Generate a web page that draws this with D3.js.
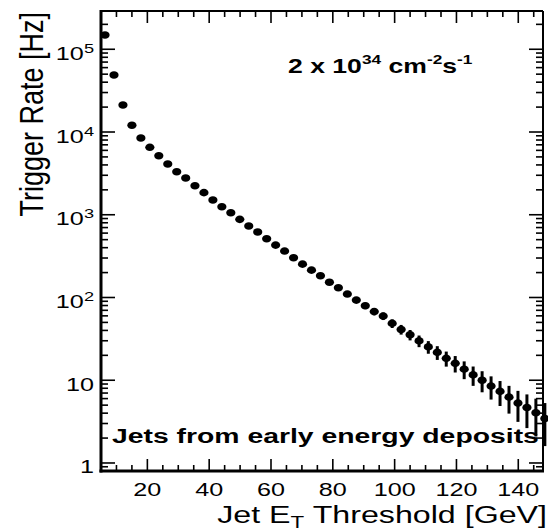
<!DOCTYPE html>
<html><head><meta charset="utf-8">
<script src="https://cdn.jsdelivr.net/npm/d3@7"></script>
<style>html,body{margin:0;padding:0;background:#fff;}svg{display:block;}</style>
</head><body>
<svg id="c" width="548" height="531"></svg>
<script>
// ---- data ----
const thresholds = [6.3,9.2,12.1,15.0,17.9,20.8,23.7,26.6,29.5,32.4,35.4,38.3,41.2,44.1,47.0,49.9,52.8,55.7,58.6,61.5,64.4,67.3,70.2,73.1,76.0,78.9,81.8,84.7,87.6,90.5,93.4,96.3,99.2,102.1,105.0,107.9,110.9,113.8,116.7,119.6,122.5,125.4,128.3,131.2,134.1,137.0,139.9,142.8,145.7,148.6];
const rates = [148900,48900,21200,12050,8460,6530,5170,4100,3310,2780,2240,1850,1510,1250,1057,880,730,618,513,430,364,302,253,214,183,153,131,110,93,79.4,67.5,59.6,48.6,41.1,35.4,29.9,25.3,21.7,18.4,16.0,13.6,11.6,10.0,8.49,7.33,6.25,5.29,4.69,4.04,3.45];
const rateErrors = [600,250,130,80,60,50,45,38,33,30,27,24,22,20,18,17,15,14,13,12,11,10,9.5,9,8.5,8,7.8,7.5,7.2,7.0,6.5,6.2,5.8,5.5,5.1,4.8,4.4,4.1,3.8,3.6,3.3,3.05,2.85,2.65,2.45,2.3,2.15,2.05,1.95,1.85];
const xTickValues = [20,40,60,80,100,120,140];
const xTickLabels = ["20","40","60","80","100","120","140"];
const yTickValues = [1,10,100,1000,10000,100000];
const yTickBase = ["1","10","10","10","10","10"];
const yTickSup = ["","","2","3","4","5"];
const xTitle = ["Jet E","T"," Threshold [GeV]"];
const yTitle = "Trigger Rate [Hz]";
const lumiText = ["2 x 10","34"," cm","-2","s","-1"];
const noteText = "Jets from early energy deposits";

// ---- layout ----
const L = 101, R = 543, T = 11, B = 471;
const FONT = "'Liberation Sans', Arial, Helvetica, sans-serif";
const SX = 1.4;
const svg = d3.select("#c");
const x = d3.scaleLinear().domain([5, 148]).range([L, R]);
const y = d3.scaleLog().domain([0.8, 2.9e5]).range([B, T]);

// frame
const frame = svg.append("g").attr("stroke", "#000").attr("fill", "none");
frame.append("line").attr("x1", L).attr("x2", L).attr("y1", T - 1).attr("y2", B + 1.5).attr("stroke-width", 3);
frame.append("line").attr("x1", L - 1.5).attr("x2", R + 1).attr("y1", B).attr("y2", B).attr("stroke-width", 3);
frame.append("line").attr("x1", L).attr("x2", R).attr("y1", T).attr("y2", T).attr("stroke-width", 2);
frame.append("line").attr("x1", R).attr("x2", R).attr("y1", T).attr("y2", B).attr("stroke-width", 2);

// x ticks (bottom & top)
const xMinor = d3.range(5, 148, 5);
const tk = svg.append("g").attr("stroke", "#000").attr("stroke-width", 1.6);
xMinor.forEach(v => {
  const major = xTickValues.includes(v);
  const len = major ? 12 : 6;
  tk.append("line").attr("x1", x(v)).attr("x2", x(v)).attr("y1", B).attr("y2", B - len);
  tk.append("line").attr("x1", x(v)).attr("x2", x(v)).attr("y1", T).attr("y2", T + len);
});
// y ticks (left & right)
const [y0, y1] = y.domain();
for (let e = Math.floor(Math.log10(y0)); e <= Math.ceil(Math.log10(y1)); e++) {
  for (let m = 1; m <= 9; m++) {
    const v = m * Math.pow(10, e);
    if (v < y0 * 0.999 || v > y1) continue;
    const len = m === 1 ? 14 : 7;
    tk.append("line").attr("x1", L).attr("x2", L + len).attr("y1", y(v)).attr("y2", y(v));
    tk.append("line").attr("x1", R).attr("x2", R - len).attr("y1", y(v)).attr("y2", y(v));
  }
}

function sText(px, py, anchor, size, weight) {
  const g = svg.append("g").attr("transform", `translate(${px},${py}) scale(${SX},1)`);
  return g.append("text").attr("text-anchor", anchor).attr("font-family", FONT)
    .attr("font-size", size).attr("font-weight", weight).attr("fill", "#000");
}

// x tick labels
xTickValues.forEach((v, i) => {
  sText(x(v), 496, "middle", 18, "normal").text(xTickLabels[i]);
});
// y tick labels
yTickValues.forEach((v, i) => {
  const t = sText(94, y(v) + 10.5, "end", 18, "normal");
  t.append("tspan").text(yTickBase[i]);
  if (yTickSup[i]) t.append("tspan").attr("font-size", 13).attr("dy", -7).text(yTickSup[i]);
});

// axis titles
const xt = sText(547, 523, "end", 23, "normal");
xt.append("tspan").text(xTitle[0]);
xt.append("tspan").attr("font-size", 16).attr("dy", 5).text(xTitle[1]);
xt.append("tspan").attr("dy", -5).text(xTitle[2]);

svg.append("text").attr("transform", "translate(42.5,12) rotate(-90) scale(1,1.2)")
  .attr("text-anchor", "end").attr("font-family", FONT).attr("font-size", 27).text(yTitle);

// annotations
const lt = svg.append("g").attr("transform", `translate(288,73.3) scale(1.33,1)`)
  .append("text").attr("font-family", FONT).attr("font-weight", "bold").attr("font-size", 20);
lt.append("tspan").text(lumiText[0]);
lt.append("tspan").attr("font-size", 13).attr("dy", -9).text(lumiText[1]);
lt.append("tspan").attr("dy", 9).text(lumiText[2]);
lt.append("tspan").attr("font-size", 13).attr("dy", -9).text(lumiText[3]);
lt.append("tspan").attr("dy", 9).text(lumiText[4]);
lt.append("tspan").attr("font-size", 13).attr("dy", -9).text(lumiText[5]);

svg.append("g").attr("transform", `translate(112,443) scale(1.35,1)`)
  .append("text").attr("font-family", FONT).attr("font-weight", "bold").attr("font-size", 21).text(noteText);

// data: error bars + markers
const pts = thresholds.map((t, i) => ({x: t, v: rates[i], e: rateErrors[i]}));
svg.append("g").attr("stroke", "#000").attr("stroke-width", 3)
  .selectAll("line").data(pts).join("line")
  .attr("x1", d => x(d.x)).attr("x2", d => x(d.x))
  .attr("y1", d => y(d.v + d.e)).attr("y2", d => y(Math.max(d.v - d.e, y0)));
svg.append("g").attr("fill", "#000")
  .selectAll("ellipse").data(pts).join("ellipse")
  .attr("cx", d => x(d.x)).attr("cy", d => y(d.v)).attr("rx", 4.6).attr("ry", 3.8);
</script>
</body></html>
